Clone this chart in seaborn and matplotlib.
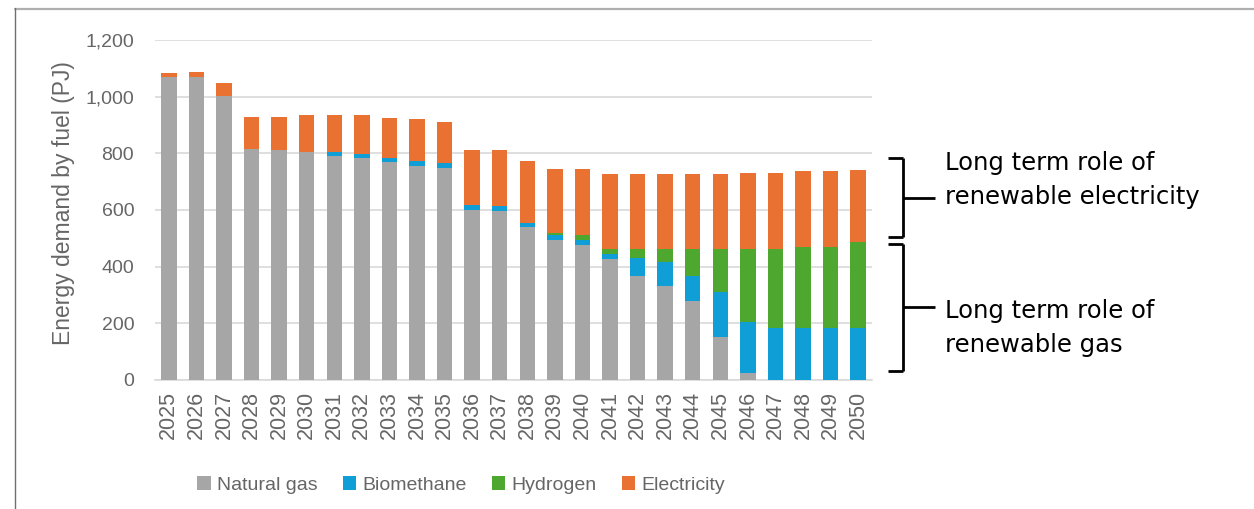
import numpy as np
import pandas as pd
import matplotlib
matplotlib.use("Agg")
import matplotlib.pyplot as plt
import seaborn as sns
from matplotlib.lines import Line2D
from matplotlib.patches import Patch
from matplotlib.ticker import FuncFormatter

# Dados (PJ)
anos = [str(a) for a in range(2025, 2051)]
gas_natural = [1068, 1071, 1002, 814, 812, 805, 791, 782, 768, 755, 747, 600, 596,
               541, 494, 476, 426, 368, 332, 280, 153, 23, 0, 0, 0, 0]
biometano = [0, 0, 0, 0, 0, 0, 15, 16, 14, 19, 18, 18, 18,
             14, 18, 18, 19, 64, 86, 88, 159, 183, 182, 182, 182, 182]
hidrogenio = [0, 0, 0, 0, 0, 0, 0, 0, 0, 0, 0, 0, 0,
              0, 6, 18, 17, 30, 44, 94, 150, 256, 280, 286, 286, 304]
eletricidade = [14, 15, 48, 115, 117, 129, 129, 136, 143, 147, 146, 194, 198,
                218, 227, 233, 265, 265, 265, 265, 265, 270, 270, 268, 268, 255]

nomes = ["Natural gas", "Biomethane", "Hydrogen", "Electricity"]
cores = ["#A6A6A6", "#0F9ED5", "#4EA72E", "#E97132"]

W, H = 1254, 509

def fx(px):
    return px / W

def fy(py):
    return 1 - py / H

# Tabela com os acumulados para empilhar as barras
df = pd.DataFrame({"ano": anos, "gas": gas_natural, "bio": biometano,
                   "h2": hidrogenio, "ele": eletricidade})
df["c_gas"] = df["gas"]
df["c_bio"] = df["c_gas"] + df["bio"]
df["c_h2"] = df["c_bio"] + df["h2"]
df["c_ele"] = df["c_h2"] + df["ele"]

sns.set_theme(style="white")
plt.rcParams["font.family"] = ["Liberation Sans", "DejaVu Sans"]

fig = plt.figure(figsize=(W / 100, H / 100), dpi=100)
ax = fig.add_axes([fx(155), fy(380), fx(872) - fx(155), fy(40) - fy(380)])

# Desenha do topo para a base, cada camada por cima da anterior
for col, cor in zip(["c_ele", "c_h2", "c_bio", "c_gas"], cores[::-1]):
    sns.barplot(data=df, x="ano", y=col, color=cor, width=0.56,
                saturation=1, linewidth=0, edgecolor="none", ax=ax, zorder=3)

ax.set_xlim(-0.5, len(anos) - 0.5)
ax.set_ylim(0, 1200)
ax.set_yticks(np.arange(0, 1201, 200))
ax.yaxis.set_major_formatter(FuncFormatter(lambda v, p: f"{v:,.0f}"))
ax.grid(axis="y", color="#D9D9D9", linewidth=1.2, zorder=0)
ax.set_axisbelow(True)
for s in ["top", "right", "left"]:
    ax.spines[s].set_visible(False)
ax.spines["bottom"].set_color("#D9D9D9")
ax.spines["bottom"].set_linewidth(1.2)

cinza = "#666666"
ax.tick_params(axis="y", length=0, pad=15, labelsize=14, labelcolor=cinza)
ax.tick_params(axis="x", length=0, pad=8, labelsize=15.5, labelcolor=cinza)
plt.setp(ax.get_xticklabels(), rotation=90)
ax.set_xlabel("")
ax.set_ylabel("Energy demand by fuel (PJ)", fontsize=16.5, color=cinza)
ax.yaxis.set_label_coords(-0.112, 0.52)

# Legenda
handles = [Patch(facecolor=c, edgecolor="none", label=n) for n, c in zip(nomes, cores)]
fig.legend(handles=handles, loc="center", bbox_to_anchor=(fx(461), fy(485)),
           ncol=4, frameon=False, fontsize=14, labelcolor=cinza,
           handlelength=0.7, handleheight=0.7, handletextpad=0.3, columnspacing=1.3)

# Chaves de anotação
def chave(topo, base, meio):
    pts = [((888, topo), (903, topo)), ((903, topo), (903, base)),
           ((888, base), (903, base)), ((903, meio), (935, meio))]
    for (x0, y0), (x1, y1) in pts:
        fig.add_artist(Line2D([fx(x0), fx(x1)], [fy(y0), fy(y1)],
                              color="black", linewidth=2, solid_capstyle="butt"))

chave(158, 237, 198)
chave(244, 371, 307)

fonte_nota = dict(family="DejaVu Sans", fontsize=17.5, color="black", va="baseline")
fig.text(fx(945), fy(170), "Long term role of", **fonte_nota)
fig.text(fx(945), fy(204), "renewable electricity", **fonte_nota)
fig.text(fx(945), fy(318), "Long term role of", **fonte_nota)
fig.text(fx(945), fy(352), "renewable gas", **fonte_nota)

# Moldura parcial da área do gráfico
fig.add_artist(Line2D([fx(15), fx(W)], [fy(8.5), fy(8.5)], color="#AFAFAF", linewidth=1.6))
fig.add_artist(Line2D([fx(15.5), fx(15.5)], [fy(8), fy(H)], color="#707070", linewidth=1))

fig.savefig("out.png", dpi=100)
